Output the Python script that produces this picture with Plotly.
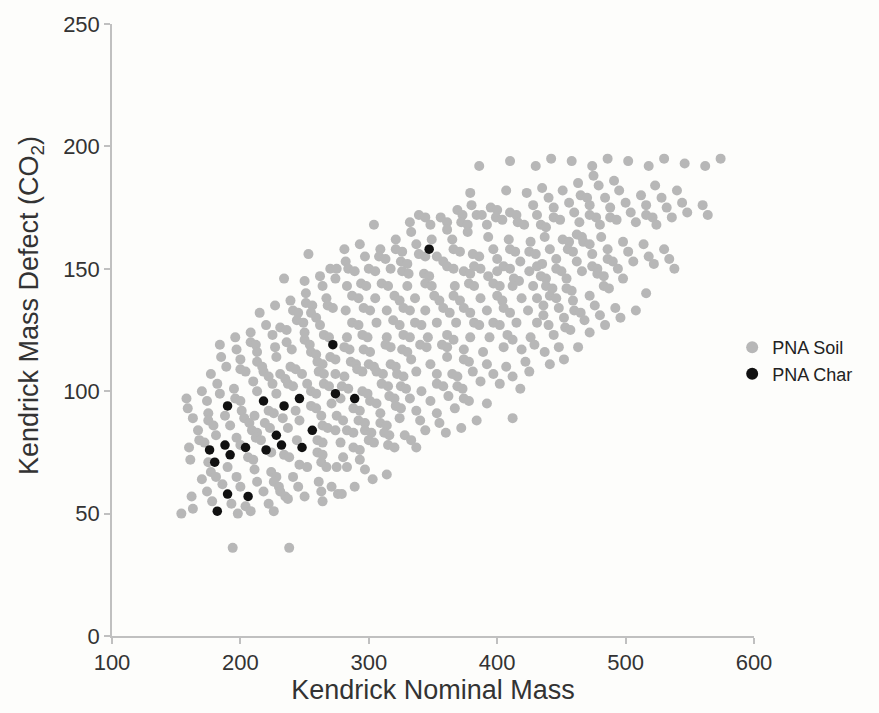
import plotly.graph_objects as go

# Kendrick nominal mass / Kendrick mass defect (CO2 base) pairs, grouped by region of the plot
soil_low_mass = [
    (196,122),(208,120),(212,119),(225,123),(236,120),(250,121),(254,119),(265,123),(269,122),
    (184,119),(197,117),(213,116),(227,118),(240,117),(255,116),(259,115),(270,114),(274,113),
    (185,114),(200,113),(213,112),(217,110),(228,114),(239,110),(243,109),(260,112),(264,111),
    (177,107),(189,110),(200,109),(204,108),(218,108),(222,106),(231,107),(235,105),(248,107),
    (261,108),(265,107),(274,107),
    (182,103),(170,100),(195,101),(210,104),(225,103),(237,103),(241,102),(252,103),(265,103),(269,102),
    (158,97),(174,96),(184,99),(196,97),(200,96),(213,100),(228,99),(255,100),(259,99),
    (159,93),(175,91),(188,90),(201,92),(211,90),(222,92),(226,91),(243,92),(255,94),(259,93),(271,95),
    (163,89),(175,88),(179,86),(192,86),(203,89),(207,87),(219,87),(233,89),(246,88),(263,90),(275,90),
    (167,84),(181,82),(197,81),(209,84),(213,83),(223,85),(237,85),(244,80),(264,86),(268,85),(274,84),
    (168,80),(172,79),(212,81),(216,80),(260,80),(264,79),(278,79),
    (160,77),(200,78),(206,73),(210,72),(224,75),(234,74),(238,73),(246,70),(260,75),(264,74),
    (161,72),(175,71),(177,67),(181,65),(190,69),(197,65),(211,68),(224,67),(228,65),(241,65),
    (252,69),(263,71),(267,69),(275,69),
    (170,64),(186,62),(200,61),(213,63),(226,63),(230,61),(245,61),(261,63),(271,61),
    (174,59),(218,59),(231,59),(235,57),(250,57),(263,59),
    (162,57),(178,55),(193,54),(204,53),(208,51),(222,54),(237,56),(264,55),(276,58),
    (163,52),(154,50),(198,50),(226,51),(194,36),(238,36),
    (253,156),(270,150),(275,150),(234,146),(250,145),(262,147),(274,146),(264,143),(251,140),(267,138),
    (227,135),(239,137),(251,136),(256,135),(268,135),(272,134),(215,132),(241,133),(245,132),
    (255,132),(259,130),(220,127),(231,126),(236,125),(244,129),(249,128),(262,127),(208,124),(250,124),
]

soil_mid_upper = [
    (386,192),(410,194),(430,192),(407,182),(379,181),(423,181),(380,176),(428,176),
    (395,175),(400,174),(369,174),(373,172),(384,172),(388,172),(410,173),(415,172),(399,171),(404,170),
    (339,172),(344,171),(356,171),(361,169),(431,172),
    (304,168),(332,169),(348,168),(372,169),(377,168),(392,168),(416,169),(421,168),
    (333,165),(361,166),(377,165),(393,163),(409,162),(426,161),(321,162),(349,162),
    (281,158),(293,160),(309,158),(321,158),(326,157),(337,160),(365,162),(366,158),(371,157),
    (381,156),(386,155),(397,158),(400,154),(410,158),(414,157),(425,157),(430,156),
    (282,153),(297,155),(308,155),(313,154),(325,153),(330,152),(339,156),(344,155),(353,155),
    (358,153),(361,151),(366,150),(382,151),(387,150),(405,151),(410,150),(418,153),(431,151),
    (284,150),(289,149),(300,150),(305,149),(317,150),(326,149),(331,148),(343,148),(347,147),
    (374,149),(379,148),(393,147),(400,149),(413,146),(417,145),(425,149),
    (283,143),(294,144),(298,143),(310,144),(315,143),(330,143),(344,144),(349,143),(367,143),
    (378,144),(382,143),(397,144),(402,143),(412,143),(428,143),
    (287,139),(292,138),(305,138),(320,139),(324,137),(336,138),(351,139),(355,137),(366,139),
    (371,137),(387,138),(400,139),(404,137),(419,138),(431,138),
    (282,133),(296,134),(301,133),(314,133),(327,134),(332,133),(344,133),(358,134),(363,132),
    (374,134),(379,132),(392,133),(405,134),(410,132),(424,133),
    (287,128),(292,127),(306,128),(319,129),(324,127),(336,128),(341,127),(353,128),(368,128),
    (382,128),(386,127),(397,128),(402,127),(415,128),(431,128),
    (283,122),(295,123),(299,122),(314,122),(327,123),(332,122),(346,122),(361,123),(366,121),
    (379,122),(394,122),(408,123),(412,121),(426,122),
]

soil_mid_lower = [
    (281,118),(285,117),(296,117),(301,116),(313,119),(317,118),(326,117),(330,116),(340,119),
    (345,118),(357,119),(361,118),(374,117),(389,116),(405,118),(419,117),(429,119),
    (286,112),(290,111),(300,111),(304,110),(317,111),(321,110),(333,113),(348,111),(361,114),
    (374,113),(378,112),(392,111),(407,110),(422,112),
    (281,106),(291,109),(295,108),(306,108),(311,107),(322,107),(327,106),(337,108),(353,107),
    (365,107),(369,106),(381,108),(397,107),(412,106),(425,108),
    (279,102),(284,101),(295,100),(299,99),(310,103),(315,102),(325,102),(329,101),(341,100),
    (353,103),(358,102),(369,102),(373,101),(387,104),(402,103),(418,101),
    (278,97),(301,96),(306,95),(316,98),(320,97),(332,97),(348,96),(362,98),(374,97),(378,96),(392,95),
    (288,93),(293,92),(309,91),(321,94),(325,93),(337,92),(353,91),(367,93),(384,88),(412,89),
    (280,88),(292,88),(297,87),(309,87),(314,86),(324,89),(340,88),(355,87),(372,85),
    (283,84),(288,83),(297,84),(302,83),(312,83),(316,82),(328,82),(333,80),(344,84),(360,83),
    (288,77),(293,76),(300,80),(304,79),(315,78),(320,77),(337,77),
    (280,73),(293,72),(283,69),(297,68),(314,66),(303,64),(289,61),(279,58),
]

soil_high_mass = [
    (442,195),(458,194),(474,192),(486,195),(502,194),(518,192),(530,195),(546,193),(562,192),(574,195),
    (475,188),(463,185),(491,186),(435,183),(451,182),(479,184),(495,182),(523,184),(540,182),
    (440,179),(456,177),(465,180),(470,179),(484,179),(500,177),(512,180),(528,179),(544,177),(560,176),
    (444,175),(460,173),(472,176),(488,175),(504,173),(516,176),(532,175),(548,173),(564,172),
    (444,171),(449,170),(464,169),(472,172),(477,171),(488,171),(493,170),(508,169),(516,172),
    (521,171),(524,168),(536,171),(434,168),(438,167),(480,168),
    (437,163),(451,162),(456,161),(462,164),(466,163),(467,161),(472,160),(481,163),(498,161),
    (514,160),(530,158),
    (441,158),(455,158),(459,157),(474,156),(486,158),(502,157),(518,155),(534,154),
    (435,152),(446,154),(462,153),(474,151),(478,150),(486,154),(490,153),(494,150),(506,153),
    (522,152),(538,150),
    (434,147),(438,146),(446,150),(450,149),(454,146),(466,149),(478,148),(483,147),(498,146),
    (438,143),(443,142),(454,142),(458,141),(472,139),(483,143),(487,142),(516,140),
    (441,139),(446,138),(459,137),(476,135),(492,134),(508,133),
    (436,135),(448,134),(460,133),(465,132),(480,131),(496,130),
    (436,131),(452,130),(468,129),(484,127),
    (440,127),(453,126),(457,125),(472,124),(444,123),
    (437,116),(448,118),(441,111),(452,113),(463,118),
]

# PNA Char peaks
char_points = [
    (272,119),(274,99),(190,94),(218,96),(234,94),(246,97),(256,84),(228,82),(232,78),(248,77),
    (220,76),(204,77),(188,78),(192,74),(176,76),(180,71),(190,58),(206,57),(182,51),(347,158),
    (289,97),
]

x_ticks = [100, 200, 300, 400, 500, 600]
y_ticks = [0, 50, 100, 150, 200, 250]

soil = soil_low_mass + soil_mid_upper + soil_mid_lower + soil_high_mass
soil_x = [p[0] for p in soil]
soil_y = [p[1] for p in soil]
char_x = [p[0] for p in char_points]
char_y = [p[1] for p in char_points]

FONT = "Liberation Sans, Arial, sans-serif"
AXIS_GREY = "#c0c0c0"
TEXT = "#333333"

fig = go.Figure()
fig.add_trace(go.Scatter(
    x=soil_x, y=soil_y, mode="markers", name="PNA Soil",
    marker=dict(color="#b7b7b7", size=10, line=dict(width=0)),
))
fig.add_trace(go.Scatter(
    x=char_x, y=char_y, mode="markers", name="PNA Char",
    marker=dict(color="#111111", size=9.5, line=dict(width=0)),
))

axis_common = dict(
    showgrid=False, zeroline=False, showline=True, linecolor=AXIS_GREY, linewidth=1.5,
    ticks="outside", ticklen=6, tickcolor=AXIS_GREY, tickwidth=1.5,
    tickfont=dict(family=FONT, size=22, color=TEXT),
)

fig.update_layout(
    width=879, height=713,
    margin=dict(l=112, r=125, t=21, b=77),
    paper_bgcolor="#fdfdfb", plot_bgcolor="#fdfdfb",
    font=dict(family=FONT, color=TEXT),
    xaxis=dict(range=[100, 600], tickvals=x_ticks,
               title=dict(text="Kendrick Nominal Mass", font=dict(family=FONT, size=27, color=TEXT), standoff=4),
               **axis_common),
    yaxis=dict(range=[0, 250], tickvals=y_ticks, **axis_common),
    legend=dict(x=0.966, y=0.45, xanchor="left", yanchor="middle",
                font=dict(family=FONT, size=18, color="#222222"),
                bgcolor="rgba(0,0,0,0)", itemsizing="constant", tracegroupgap=4),
    showlegend=True,
    annotations=[dict(
        text="Kendrick Mass Defect (CO<sub>2</sub>)", textangle=-90,
        xref="paper", yref="paper", x=-0.127, y=0.54,
        xanchor="center", yanchor="middle", showarrow=False,
        font=dict(family=FONT, size=27, color=TEXT),
    )],
)

fig.write_html("out.html")
